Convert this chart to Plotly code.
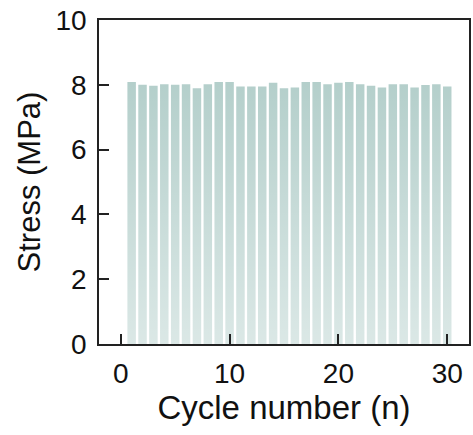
import plotly.graph_objects as go

cycles = list(range(1, 31))
stress = [8.09, 8.00, 7.97, 8.02, 8.00, 8.02, 7.89, 8.02, 8.09, 8.09,
          7.95, 7.95, 7.95, 8.06, 7.89, 7.92, 8.09, 8.09, 8.02, 8.06,
          8.09, 8.02, 7.97, 7.92, 8.02, 8.02, 7.92, 7.99, 8.02, 7.95]
x_ticks = [0, 10, 20, 30]
y_ticks = [0, 2, 4, 6, 8, 10]

BAR_TOP = "#b4cfcb"
FONT = "Liberation Sans, Arial, sans-serif"

fig = go.Figure()
fig.add_trace(go.Bar(x=cycles, y=stress, width=0.78,
                     marker=dict(color=BAR_TOP, line=dict(width=0)),
                     showlegend=False))

# white gradient veil over bars (lighter towards the bottom)
x0 = min(cycles) - 0.5
x1 = max(cycles) + 0.5
ymax = max(stress)
fig.add_trace(go.Scatter(
    x=[x0, x1, x1, x0, x0], y=[0, 0, ymax, ymax, 0],
    mode="lines", line=dict(width=0), fill="toself",
    fillgradient=dict(type="vertical", start=0, stop=ymax,
                      colorscale=[[0, "rgba(255,255,255,0.52)"],
                                  [1, "rgba(255,255,255,0)"]]),
    hoverinfo="skip", showlegend=False))

axis_common = dict(showline=True, linecolor="#222222", linewidth=1.5, mirror=True,
                   ticks="inside", ticklen=10, tickwidth=1.5, tickcolor="#222222",
                   showgrid=False, zeroline=False, automargin=False,
                   tickfont=dict(family=FONT, size=28, color="#111111"))

fig.update_xaxes(range=[-2, 32], tickvals=x_ticks, title_text="Cycle number (n)",
                 title_font=dict(family=FONT, size=33, color="#111111"),
                 title_standoff=5, ticklabelstandoff=4, **axis_common)
fig.update_yaxes(range=[0, 10], tickvals=y_ticks, title_text="Stress (MPa)",
                 title_font=dict(family=FONT, size=31, color="#111111"),
                 title_standoff=6, ticklabelstandoff=5, **axis_common)

fig.update_layout(width=473, height=435, bargap=0.2,
                  margin=dict(l=99, r=4, t=20, b=91),
                  plot_bgcolor="white", paper_bgcolor="white")
fig.write_html("out.html", config={"displayModeBar": False},
               post_script="document.body.style.margin='0';")
